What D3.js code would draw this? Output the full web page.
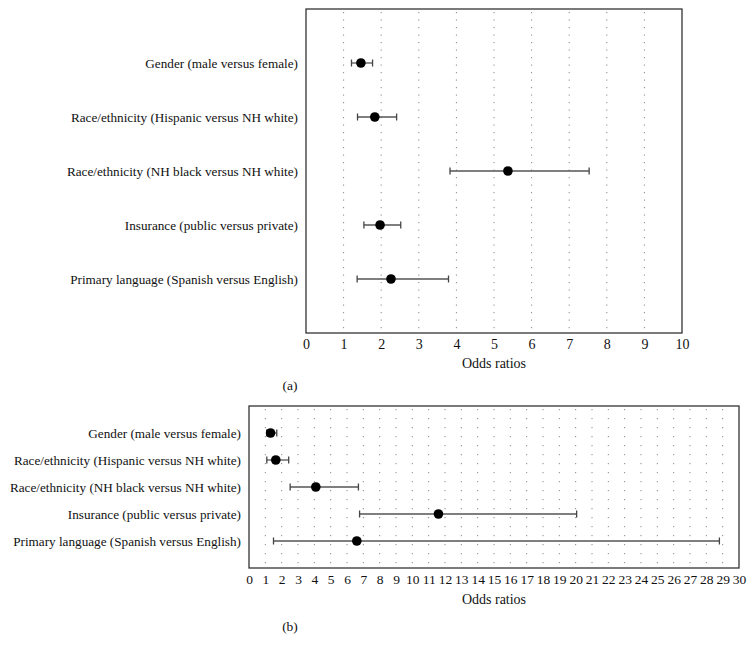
<!DOCTYPE html>
<html><head><meta charset="utf-8">
<script src="https://cdn.jsdelivr.net/npm/d3@7"></script>
<style>body{margin:0;background:#fff}svg{display:block}text{font-family:"Liberation Serif","Times New Roman",serif;fill:#111}</style>
</head><body><svg id="c" width="753" height="652"></svg>
<script>
const categories = [
  "Gender (male versus female)",
  "Race/ethnicity (Hispanic versus NH white)",
  "Race/ethnicity (NH black versus NH white)",
  "Insurance (public versus private)",
  "Primary language (Spanish versus English)"
];
// Panel (a)
const oddsA = [1.46, 1.83, 5.37, 1.97, 2.26];
const lowA  = [1.21, 1.37, 3.83, 1.54, 1.36];
const highA = [1.77, 2.41, 7.53, 2.52, 3.79];
const ticksA = d3.range(0, 11);
// Panel (b)
const oddsB = [1.32, 1.64, 4.09, 11.6, 6.6];
const lowB  = [1.08, 1.09, 2.52, 6.77, 1.5];
const highB = [1.70, 2.43, 6.70, 20.06, 28.8];
const ticksB = d3.range(0, 31);
const xLabel = "Odds ratios";

const svg = d3.select("#c");

function panel(o) {
  const g = svg.append("g");
  const x = d3.scaleLinear().domain([0, o.max]).range([o.left, o.right]);
  const y = d3.scalePoint().domain(categories).range([o.top, o.bottom]).padding(1);
  // grid
  g.selectAll("line.grid").data(d3.range(1, o.max)).join("line")
    .attr("x1", d => x(d)).attr("x2", d => x(d))
    .attr("y1", o.top + 3).attr("y2", o.bottom)
    .attr("stroke", "#888").attr("stroke-width", 1)
    .attr("stroke-dasharray", o.dash);
  // frame
  g.append("rect").attr("x", o.left).attr("y", o.top)
    .attr("width", o.right - o.left).attr("height", o.bottom - o.top)
    .attr("fill", "none").attr("stroke", "#333").attr("stroke-width", 1.3);
  // axis
  const ax = g.append("g").attr("transform", `translate(0,${o.bottom})`)
    .call(d3.axisBottom(x).tickValues(o.ticks).tickFormat(d3.format("d")).tickSize(0).tickPadding(o.tickPad));
  ax.select(".domain").remove();
  ax.selectAll("text").style("font-family", '"Liberation Serif",serif').style("font-size", o.tickFont + "px").attr("fill", "#111");
  // labels
  g.selectAll("text.cat").data(categories).join("text")
    .attr("x", o.left - o.labelGap).attr("y", d => y(d)).attr("dy", "0.35em")
    .attr("text-anchor", "end").style("font-size", o.labelFont + "px").text(d => d);
  // error bars
  const rows = categories.map((c, i) => ({c, v: o.odds[i], lo: o.low[i], hi: o.high[i]}));
  g.selectAll("line.err").data(rows).join("line")
    .attr("x1", d => x(d.lo)).attr("x2", d => x(d.hi))
    .attr("y1", d => y(d.c)).attr("y2", d => y(d.c))
    .attr("stroke", "#555").attr("stroke-width", 1.3);
  ["lo", "hi"].forEach(k => {
    g.selectAll("line.cap" + k).data(rows).join("line")
      .attr("x1", d => x(d[k])).attr("x2", d => x(d[k]))
      .attr("y1", d => y(d.c) - o.cap).attr("y2", d => y(d.c) + o.cap)
      .attr("stroke", "#444").attr("stroke-width", 1.3);
  });
  g.selectAll("circle.pt").data(rows).join("circle")
    .attr("cx", d => x(d.v)).attr("cy", d => y(d.c)).attr("r", o.r).attr("fill", "#000");
  g.append("text").attr("x", (o.left + o.right) / 2).attr("y", o.titleY)
    .attr("text-anchor", "middle").style("font-size", "14px").text(xLabel);
  g.append("text").attr("x", o.capX).attr("y", o.capY)
    .attr("text-anchor", "middle").style("font-size", "13.5px").text(o.caption);
}

panel({left: 306, right: 682, top: 9, bottom: 333, max: 10, ticks: ticksA,
  odds: oddsA, low: lowA, high: highA, dash: "1.2,6.3", tickFont: 14, tickPad: 6,
  labelFont: 13.2, labelGap: 8, cap: 3.5, r: 4.8, titleY: 368, caption: "(a)", capX: 290, capY: 390});
panel({left: 249, right: 739, top: 406, bottom: 568, max: 30, ticks: ticksB,
  odds: oddsB, low: lowB, high: highB, dash: "1.2,7.8", tickFont: 13.5, tickPad: 6,
  labelFont: 13.2, labelGap: 8, cap: 3.5, r: 4.8, titleY: 604, caption: "(b)", capX: 290, capY: 631});
</script></body></html>
